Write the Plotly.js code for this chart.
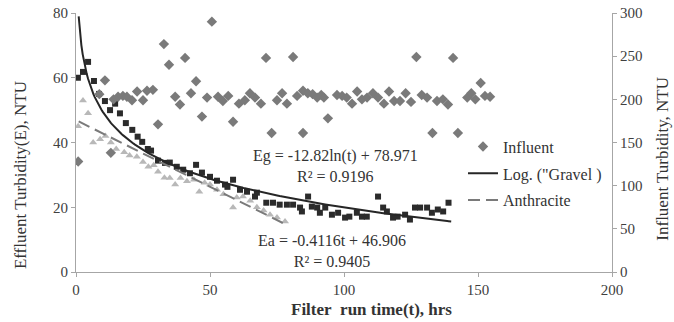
<!DOCTYPE html>
<html>
<head>
<meta charset="utf-8">
<script src="https://cdn.plot.ly/plotly-3.0.1.min.js"></script>
<style>html,body{margin:0;padding:0;background:#fff}#chart{width:674px;height:322px}</style>
</head>
<body>
<div id="chart"></div>
<script>
// Gravel effluent (black squares)
var gravelT = [0.7,2.6,4.5,6.7,8.6,10.8,12.7,14.6,16.4,18.6,21,23,24.7,26.8,28,30.6,33.2,35,37.6,40,42.5,44.8,47,50,52.6,55.6,56.5,58.6,61.2,63.8,66.8,67.5,71,73.5,76,78.7,81,83.6,84.3,86.6,88,90,91,93,95.5,97.8,100.4,102,104.8,106.7,108.5,112.7,114.6,116,118.3,120,122.8,124.6,126.5,128.4,131,132.8,135,137,139];
var gravelE = [60,61.8,64.9,59,55,52.8,50,52,49,46,43.9,41.8,40.2,38,37.5,34.4,33.7,33.8,32.5,31.6,30.5,33.1,30.7,29.4,28.2,27,26.3,28.5,25.4,24.8,23.3,24.5,21.4,21.4,20.8,20.8,20.8,19.9,18.7,23.3,20.2,19.9,18.3,19.9,17.7,18.3,16.8,17.1,18.3,17.1,17.1,23.3,19.9,18.7,16.8,17.1,17.7,16.2,19.9,19.9,19.9,18.3,19.3,18.7,21.4];
// Anthracite effluent (light grey triangles)
var anthT = [0.8,2.6,4.5,6.4,9,11,13,15,18,20,22.7,25,27,29,30.6,33,35,37,39,41.4,44,46,48,50,52.6,55,58.6,60,62.3,65,67.5,70,72.4,75,78];
var anthE = [45,53,49,40,41,42,40,38,37,36,35.6,34,32.5,33,31,29.1,29,27,29,28,28.5,24.8,27.6,27,25.4,24,19.9,23,23.3,22,20,19,17.7,16.8,15.6];
// Influent (grey diamonds, secondary axis)
var influentT = [0.8,8.7,10.8,13,14,15.7,17.5,19,20.9,22.8,25,26.5,28.7,30.6,32.8,34.7,37,38.8,40.7,42.9,44.8,47,48.9,50.7,53,54.8,56.8,58.6,60.8,63,64.9,66.8,69,70.9,73,75,76.9,78.7,81,82.5,84.7,84.7,86.5,88.3,90,91.5,92.5,94,97.4,99.3,101,103,104.9,106.7,108.6,110.8,112.7,114.9,116.8,118.7,120.9,123,125,127,129,131,133,134.7,136.9,138.8,140.7,142.5,146,147.5,149,151,152.6,154.5];
var influentV = [128,206,222,138,200,203,204,203,199,209,199,210,211,171,264,240,203,194,248,207,221,180,202,290,203,198,204,174,195,199,207,202,195,248,161,199,207,195,249,204,161,210,207,206,202,205,202,178,205,204,202,195,209,200,202,207,202,195,209,198,198,207,197,249,205,202,161,198,200,194,248,161,202,207,200,219,204,203];
// Trendline coefficients shown on the chart
var gravelA = -12.82, gravelB = 78.971, gravelTRange = [1, 140];
var anthA = -0.4116, anthB = 46.906, anthTRange = [1, 78];
var xTicks = [0,50,100,150,200];
var yTicks = [0,20,40,60,80];
var y2Ticks = [0,50,100,150,200,250,300];

var logT = [], logE = [];
for (var t = gravelTRange[0]; t <= gravelTRange[1]; t += 0.5) { logT.push(t); logE.push(gravelA*Math.log(t)+gravelB); }
var linT = anthTRange, linE = anthTRange.map(function(t){return anthA*t+anthB;});

var F = 'Liberation Serif, Times New Roman, serif';
var traces = [
  {x: gravelT, y: gravelE, type:'scatter', mode:'markers', showlegend:false,
   marker:{symbol:'square', size:6, color:'#2b2b2b'}},
  {x: anthT, y: anthE, type:'scatter', mode:'markers', showlegend:false,
   marker:{symbol:'triangle-up', size:7, color:'#b8b8b8'}},
  {x: influentT, y: influentV, yaxis:'y2', type:'scatter', mode:'markers', name:'Influent', legendgroup:'a',
   marker:{symbol:'diamond', size:8, color:'#7a7a7a'}},
  {x: logT, y: logE, type:'scatter', mode:'lines', name:'Log. ("Gravel )', legendgroup:'b',
   line:{color:'#262626', width:2}},
  {x: linT, y: linE, type:'scatter', mode:'lines', name:'Anthracite', legendgroup:'c',
   line:{color:'#7a7a7a', width:2, dash:'12px,6px'}}
];
var axisCommon = {showgrid:false, zeroline:false, showline:true, linecolor:'#a6a6a6', linewidth:1,
  ticks:'outside', ticklen:4, tickcolor:'#a6a6a6', tickfont:{family:F, size:15, color:'#404040'}};
var layout = {
  width:674, height:322, margin:{l:76, r:62, t:13, b:50},
  paper_bgcolor:'#fff', plot_bgcolor:'#fff', font:{family:F, color:'#333'},
  xaxis: Object.assign({}, axisCommon, {range:[0,200], tickvals:xTicks, ticktext:xTicks.map(String)}),
  yaxis: Object.assign({}, axisCommon, {range:[0,80], tickvals:yTicks, ticktext:yTicks.map(String)}),
  yaxis2: Object.assign({}, axisCommon, {range:[0,300], overlaying:'y', side:'right', tickvals:y2Ticks, ticktext:y2Ticks.map(String)}),
  showlegend:true,
  legend:{x:0.722, y:0.55, xanchor:'left', yanchor:'top', bgcolor:'rgba(0,0,0,0)', tracegroupgap:3,
    font:{family:F, size:16, color:'#333'}},
  annotations:[
    {xref:'paper', yref:'paper', x:0.552, y:-0.145, xanchor:'center', yanchor:'middle', text:'<b>Filter&nbsp; run time(t), hrs</b>', showarrow:false,
     font:{family:F, size:17, color:'#333'}},
    {xref:'paper', yref:'paper', x:-0.1045, y:0.374, xanchor:'center', yanchor:'middle', text:'Effluent Turbidity(E), NTU', textangle:-90, showarrow:false,
     font:{family:F, size:17, color:'#333'}},
    {xref:'paper', yref:'paper', x:1.094, y:0.439, xanchor:'center', yanchor:'middle', text:'Influent Turbidity, NTU', textangle:-90, showarrow:false,
     font:{family:F, size:17, color:'#333'}},
    {xref:'paper', yref:'paper', x:0.485, y:0.41, xanchor:'center', yanchor:'middle', text:'Eg = -12.82ln(t) + 78.971<br>R² = 0.9196', showarrow:false,
     font:{family:F, size:16, color:'#333'}},
    {xref:'paper', yref:'paper', x:0.478, y:0.083, xanchor:'center', yanchor:'middle', text:'Ea = -0.4116t + 46.906<br>R² = 0.9405', showarrow:false,
     font:{family:F, size:16, color:'#333'}}
  ]
};
Plotly.newPlot('chart', traces, layout, {displayModeBar:false, staticPlot:true});
</script>
</body>
</html>
